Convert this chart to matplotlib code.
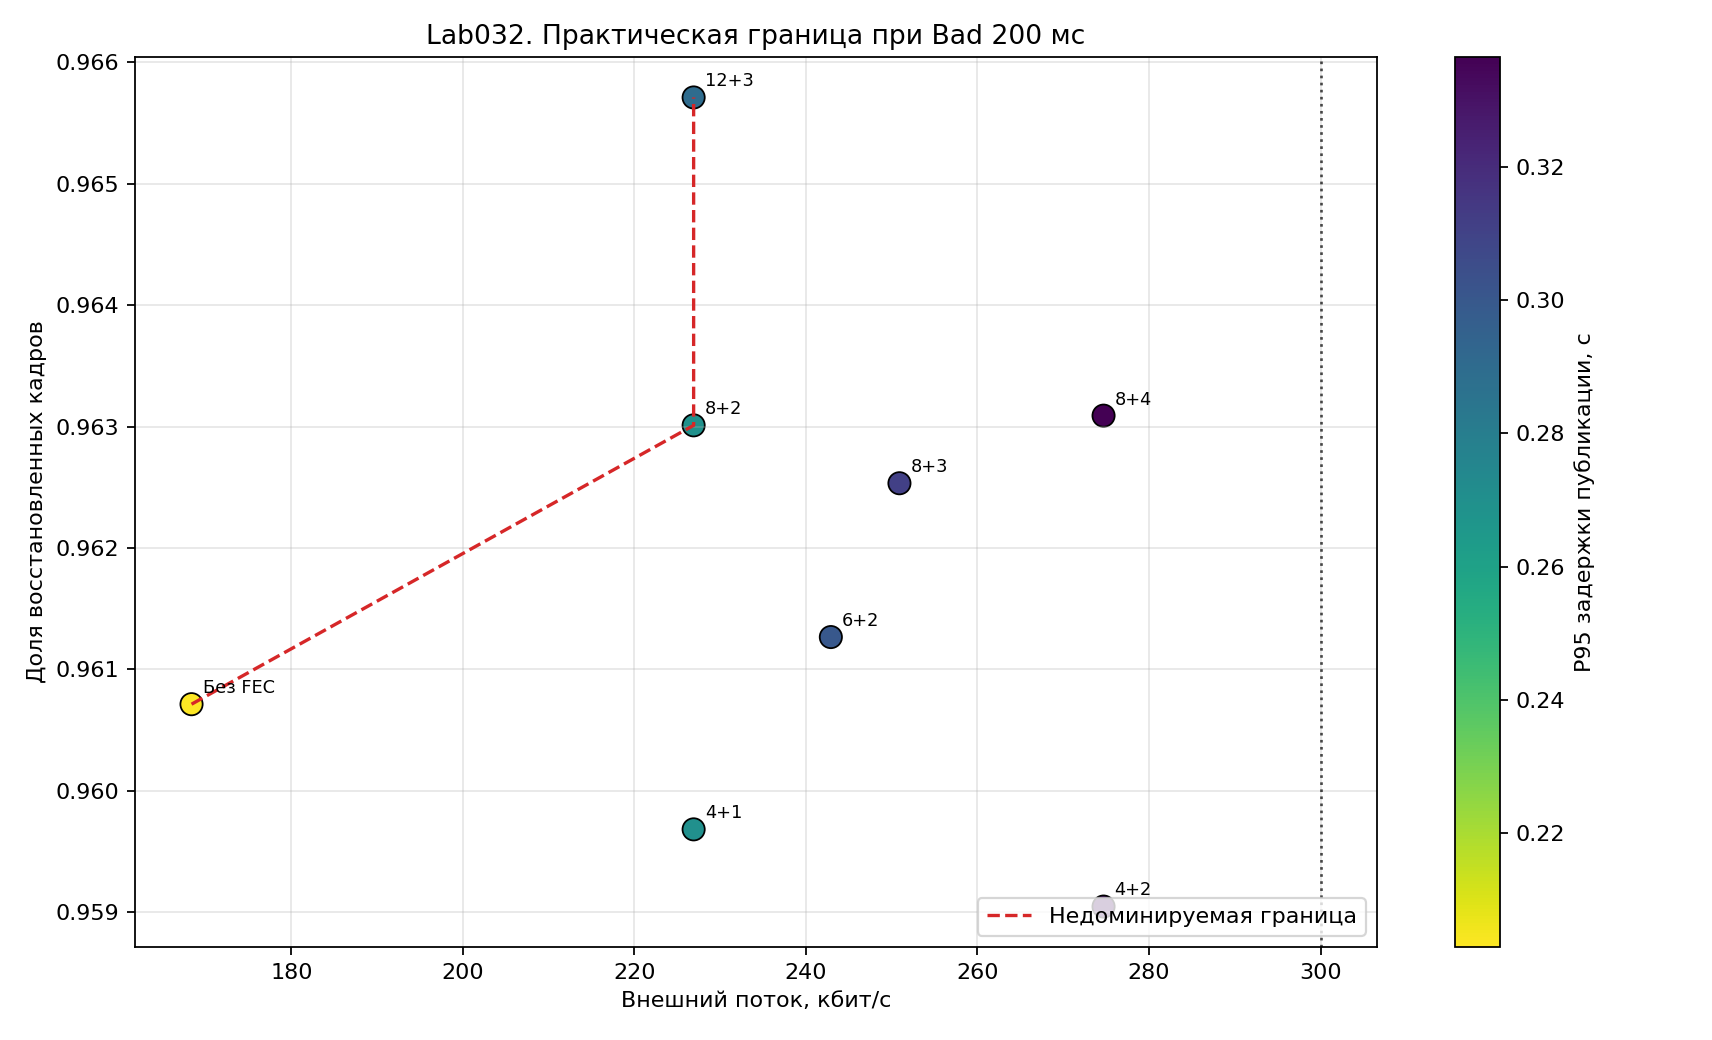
import numpy as np
import matplotlib
matplotlib.use("Agg")
from matplotlib import pyplot as plt

# конфигурации FEC (k+m), внешний поток, доля восстановленных кадров, P95 задержки
labels = ["Без FEC", "4+1", "4+2", "6+2", "8+2", "8+3", "8+4", "12+3"]
bitrate = [168.35, 226.9, 274.7, 242.9, 226.9, 250.9, 274.7, 226.9]
recovered = [0.960714, 0.959683, 0.959047, 0.961267, 0.963011, 0.962534, 0.963091, 0.965712]
p95 = [0.2029, 0.2700, 0.3300, 0.3000, 0.2697, 0.3110, 0.3365, 0.2897]

# недоминируемая граница
frontier = ["Без FEC", "8+2", "12+3"]
budget = 300

fig = plt.figure(figsize=(10.7, 6.5), dpi=160)
ax = fig.add_axes([0.0789, 0.0894, 0.7254, 0.8558])
cax = fig.add_axes([0.8499, 0.0894, 0.0263, 0.8558])

sc = ax.scatter(bitrate, recovered, c=p95, cmap="viridis_r", s=100,
                edgecolors="black", linewidths=0.8)
for name, x, y in zip(labels, bitrate, recovered):
    ax.annotate(name, (x, y), xytext=(5, 5), textcoords="offset points", fontsize=8)

idx = [labels.index(n) for n in frontier]
ax.plot([bitrate[i] for i in idx], [recovered[i] for i in idx],
        color="#d62728", ls="--", lw=1.5, label="Недоминируемая граница")
ax.axvline(budget, color="black", ls=":", lw=1.2, alpha=0.7)

ax.set_title("Lab032. Практическая граница при Bad 200 мс", fontsize=12)
ax.set_xlabel("Внешний поток, кбит/с")
ax.set_ylabel("Доля восстановленных кадров")
ax.grid(alpha=0.3)
ax.legend(loc="lower right")

cb = fig.colorbar(sc, cax=cax)
cb.set_label("P95 задержки публикации, с")

fig.savefig("out.png", dpi=160)
